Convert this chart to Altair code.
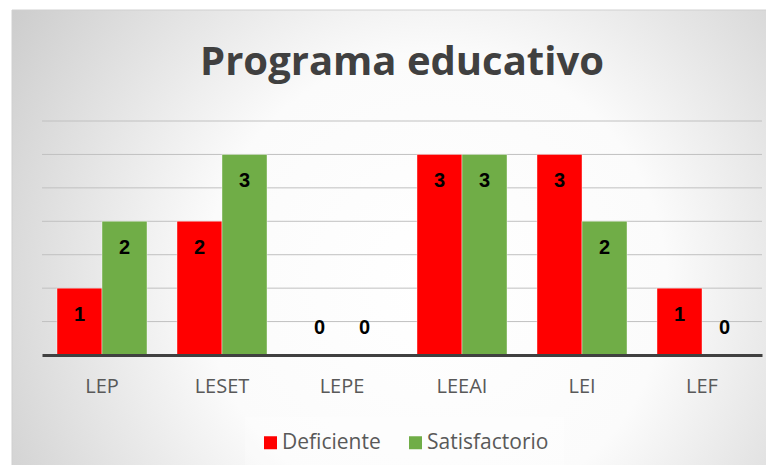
import altair as alt
import pandas as pd

categories = ["LEP", "LESET", "LEPE", "LEEAI", "LEI", "LEF"]
deficiente = [1, 2, 0, 3, 3, 1]
satisfactorio = [2, 3, 0, 3, 2, 0]
series = ["Deficiente", "Satisfactorio"]
colors = ["#FF0000", "#70AD47"]
grid_values = [0.5, 1.0, 1.5, 2.0, 2.5, 3.0, 3.5]
title_text = "Programa educativo"

rows = []
for i, c in enumerate(categories):
    rows.append({"cat": c, "serie": series[0], "value": deficiente[i]})
    rows.append({"cat": c, "serie": series[1], "value": satisfactorio[i]})
df = pd.DataFrame(rows)

W, H = 720, 234
FONT = "Open Sans"

bg_grad = alt.RadialGradient(
    gradient="radial",
    stops=[
        alt.GradientStop(color="#ffffff", offset=0),
        alt.GradientStop(color="#fbfbfb", offset=0.4),
        alt.GradientStop(color="#c0c0c0", offset=1),
    ],
    x1=0.55, y1=0.55, r1=0, x2=0.55, y2=0.55, r2=0.75,
)

one = pd.DataFrame({"t": [title_text]})

background = alt.Chart(one).mark_rect(
    color=bg_grad, stroke="#d0d0d0", strokeWidth=1, clip=False
).encode(
    x=alt.value(-30), x2=alt.value(740),
    y=alt.value(-111), y2=alt.value(360),
)

grid = alt.Chart(pd.DataFrame({"value": grid_values})).mark_rule(
    color="#c0c0c0", strokeWidth=1
).encode(
    y=alt.Y("value:Q", scale=alt.Scale(domain=[0, 3.5], nice=False), axis=None),
    x=alt.value(0), x2=alt.value(W),
)

title = alt.Chart(one).mark_text(
    font=FONT, fontSize=40, fontWeight="bold",
    color="#404040", align="center", baseline="alphabetic",
).encode(x=alt.value(W / 2), y=alt.value(-46), text="t:N")

x_enc = alt.X(
    "cat:N", sort=categories, title=None,
    scale=alt.Scale(paddingInner=0.25, paddingOuter=0.125),
    axis=alt.Axis(labelAngle=0, labelFont=FONT, labelFontSize=20,
                  labelColor="#595959", labelPadding=21, ticks=False,
                  domainColor="#404040", domainWidth=3, grid=False, zindex=1),
)
y_enc = alt.Y(
    "value:Q", title=None,
    scale=alt.Scale(domain=[0, 3.5], nice=False),
    axis=None,
)
color_enc = alt.Color(
    "serie:N", sort=series,
    scale=alt.Scale(domain=series, range=colors),
    legend=alt.Legend(
        title=None, orient="none", direction="horizontal", columns=2,
        legendX=203, legendY=296, symbolType="square", symbolSize=169,
        symbolStrokeWidth=0, labelFont=FONT, labelFontSize=21,
        labelColor="#595959", labelOffset=1, columnPadding=24,
        padding=15, fillColor="rgba(255,255,255,0.25)",
    ),
)

base = alt.Chart(df)

bars = base.mark_bar(stroke="white", strokeOpacity=0.4, strokeWidth=1).encode(
    x=x_enc, xOffset=alt.XOffset("serie:N", sort=series), y=y_enc, color=color_enc,
)

labels_pos = base.transform_filter("datum.value > 0").mark_text(
    font="Liberation Sans", fontWeight="bold", fontSize=20, color="#000000",
    baseline="middle", dy=27,
).encode(
    x=alt.X("cat:N", sort=categories), xOffset=alt.XOffset("serie:N", sort=series),
    y="value:Q", text="value:Q",
)
labels_zero = base.transform_filter("datum.value == 0").mark_text(
    font="Liberation Sans", fontWeight="bold", fontSize=20, color="#000000",
    baseline="middle", dy=-27,
).encode(
    x=alt.X("cat:N", sort=categories), xOffset=alt.XOffset("serie:N", sort=series),
    y="value:Q", text="value:Q",
)

chart = alt.layer(background, grid, bars, labels_pos, labels_zero, title).properties(
    width=W, height=H,
    autosize=alt.AutoSizeParams(type="none"),
    padding={"left": 34, "top": 113, "right": 4, "bottom": 110},
).configure_view(stroke=None).configure(background="white")

chart.save("out.html", embed_options={"renderer": "svg", "actions": False})
